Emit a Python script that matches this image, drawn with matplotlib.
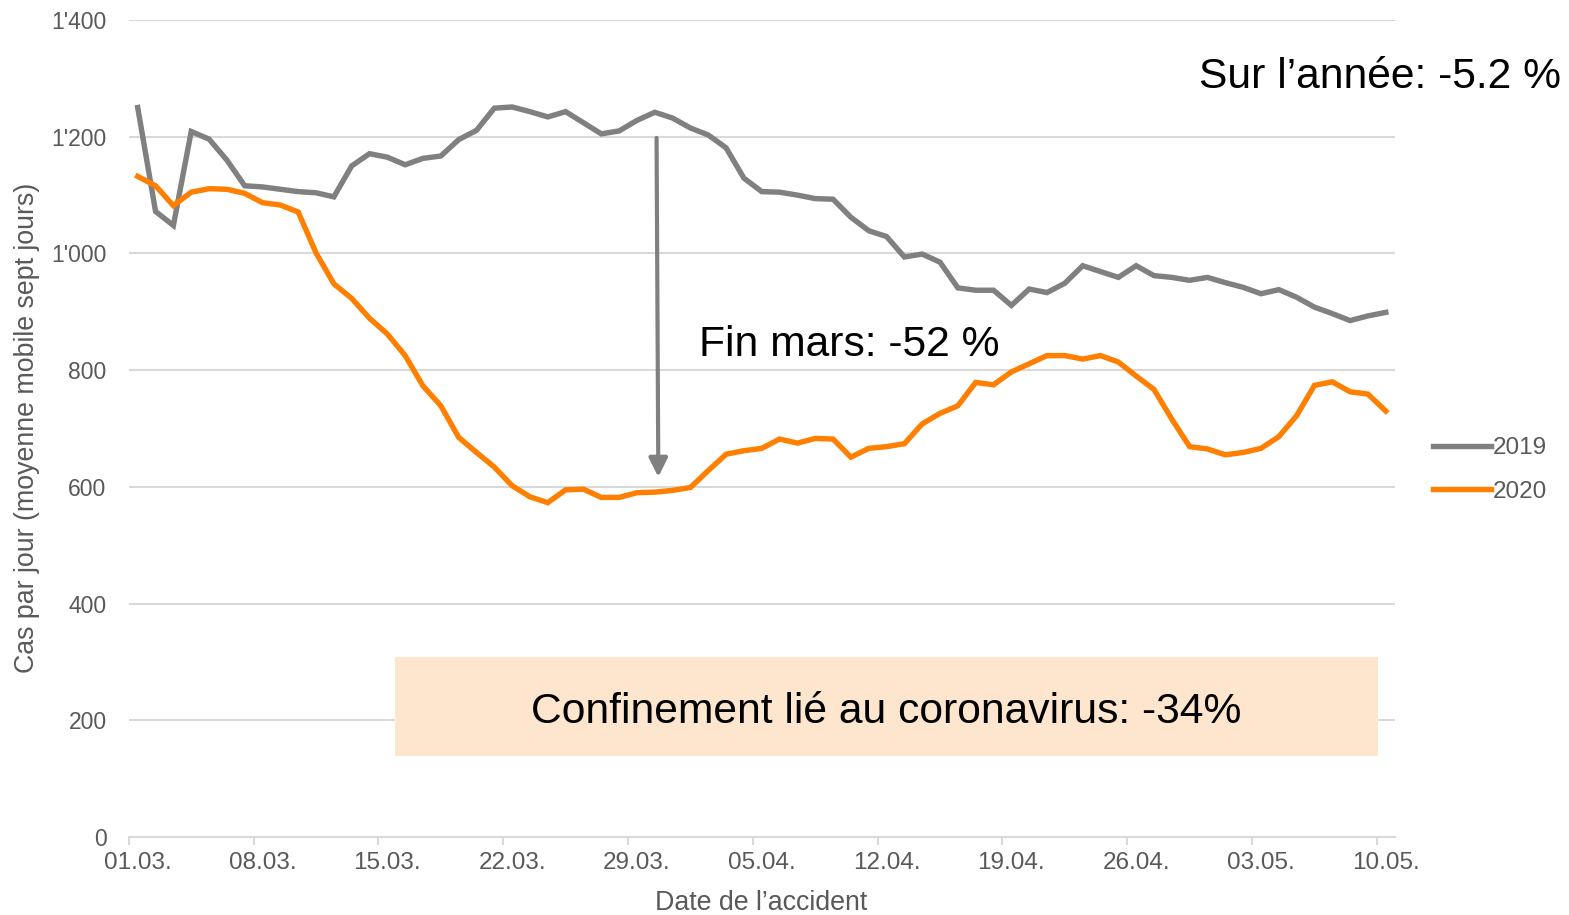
"""
    Accidents par jour, mars-mai 2019 vs 2020

    Moyenne mobile sur sept jours, avec annotations du confinement.
"""

import numpy as np
import matplotlib.pyplot as plt
from matplotlib.patches import Rectangle

plt.rcParams['font.family'] = ['Liberation Sans', 'DejaVu Sans']

# daily values (7-day moving average), 01.03. -> 10.05.
cases_2019 = [
    1250, 1072, 1048, 1209, 1196, 1160, 1116, 1114, 1110, 1106,
    1104, 1097, 1150, 1171, 1165, 1152, 1163, 1167, 1195, 1211,
    1249, 1251, 1243, 1234, 1243, 1224, 1205, 1210, 1228, 1242,
    1232, 1215, 1203, 1181, 1129, 1106, 1105, 1100, 1094, 1093,
    1062, 1039, 1029, 994, 999, 985, 941, 937, 937, 911,
    939, 933, 949, 979, 969, 959, 979, 962, 959, 954,
    959, 950, 942, 931, 938, 925, 908, 897, 885, 893,
    899,
]
cases_2020 = [
    1132, 1116, 1082, 1105, 1111, 1110, 1103, 1087, 1083, 1071,
    1001, 948, 923, 889, 862, 825, 773, 739, 685, 659,
    634, 602, 583, 573, 595, 596, 582, 582, 590, 591,
    594, 599, 628, 656, 662, 666, 682, 675, 683, 682,
    651, 666, 669, 674, 708, 726, 739, 779, 775, 797,
    811, 825, 825, 819, 825, 814, 790, 767, 716, 669,
    665, 655, 659, 666, 686, 722, 774, 780, 763, 759,
    730,
]
date_labels = ['01.03.', '08.03.', '15.03.', '22.03.', '29.03.', '05.04.',
               '12.04.', '19.04.', '26.04.', '03.05.', '10.05.']
y_values = [0, 200, 400, 600, 800, 1000, 1200, 1400]
y_labels = ['0', '200', '400', '600', '800', "1'000", "1'200", "1'400"]

GREY = '#808080'
ORANGE = '#FF8000'
TEXT = '#595959'
GRID = '#D9D9D9'


def main() -> None:
    fig = plt.figure(figsize=(15.69, 9.15), dpi=100)
    ax = fig.add_axes([0.0821, 0.0852, 0.8068, 0.8929])

    days = np.arange(len(cases_2019))
    ax.plot(days, cases_2019, color=GREY, lw=3.9, label='2019',
            solid_joinstyle='miter', zorder=3)
    ax.plot(days, cases_2020, color=ORANGE, lw=3.9, label='2020',
            solid_joinstyle='miter', zorder=3)

    ax.set_xlim(-0.5, 70.5)
    ax.set_ylim(0, 1400)

    # grid + axes look
    ax.set_yticks(y_values)
    ax.set_yticklabels(y_labels)
    ax.grid(axis='y', color=GRID, lw=1.5)
    ax.set_axisbelow(True)
    for side in ['top', 'right', 'left']:
        ax.spines[side].set_visible(False)
    ax.spines['bottom'].set_color(GRID)
    ax.spines['bottom'].set_linewidth(1.5)

    ax.set_xticks(days[::7])
    ax.set_xticklabels(date_labels)
    ax.set_xticks(days[::7] - 0.5, minor=True)
    ax.tick_params(axis='x', which='major', length=0, pad=11,
                   labelsize=17.5, labelcolor=TEXT)
    ax.tick_params(axis='x', which='minor', length=6, width=1.5, color=GRID)
    ax.tick_params(axis='y', length=0, pad=16, labelsize=16.5, labelcolor=TEXT)

    fig.text(27 / 1569, 1 - 428 / 915, 'Cas par jour (moyenne mobile sept jours)',
             rotation=90, ha='center', va='center', fontsize=19.3, color=TEXT)
    fig.text(761 / 1569, 1 - 903 / 915, 'Date de l\u2019accident',
             ha='center', va='center', fontsize=19.3, color=TEXT)

    # annotations
    ax.add_patch(Rectangle((14.43, 139), 55.13, 170, facecolor='#FDE5CE',
                           edgecolor='none', zorder=2))
    ax.text(41.99, 214, 'Confinement li\u00e9 au coronavirus: -34%',
            ha='center', va='center', fontsize=30.7, color='black', zorder=4)
    ax.annotate('', xy=(29.2, 617), xytext=(29.1, 1198),
                arrowprops=dict(arrowstyle='-|>', color=GREY, lw=3,
                                mutation_scale=28, shrinkA=0, shrinkB=0),
                zorder=4)
    ax.text(31.5, 844, 'Fin mars: -52 %', ha='left', va='center',
            fontsize=30.7, color='black')
    fig.text(1561 / 1569, 1 - 77 / 915, 'Sur l\u2019ann\u00e9e: -5.2 %',
             ha='right', va='center', fontsize=30.7, color='black')

    ax.legend(loc='center left', bbox_to_anchor=(1433 / 1569, 1 - 470 / 915),
              bbox_transform=fig.transFigure, frameon=False, fontsize=17.5,
              handlelength=2.4, handletextpad=0.05, labelspacing=0.88,
              borderpad=0, borderaxespad=0, labelcolor=TEXT)

    fig.savefig('out.png', dpi=100)


if __name__ == "__main__":
    main()
